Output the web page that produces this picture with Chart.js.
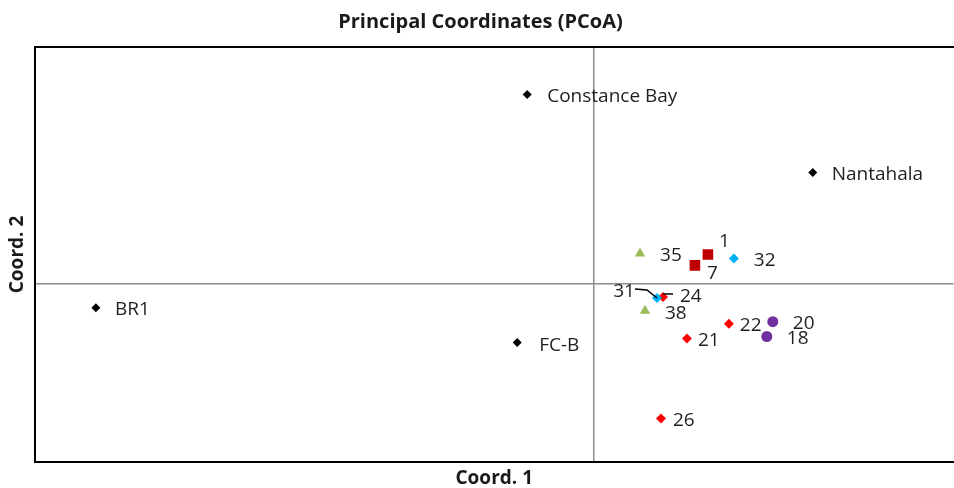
<!DOCTYPE html>
<html>
<head>
<meta charset="utf-8">
<script src="https://cdn.jsdelivr.net/npm/chart.js@4/dist/chart.umd.min.js"></script>
<style>
  html, body { margin: 0; padding: 0; background: #fff; overflow: hidden; }
  #wrap { width: 961px; height: 488px; }
</style>
</head>
<body>
<div id="wrap"><canvas id="pcoa"></canvas></div>
<script>
// site coordinates (Coord. 1, Coord. 2)
const refNames = ["Constance Bay", "Nantahala", "BR1", "FC-B"];
const refX = [-0.067, 0.219, -0.499, -0.077];
const refY = [0.192, 0.113, -0.024, -0.059];

const sqNames = ["1", "7"];
const sqX = [0.114, 0.101];
const sqY = [0.030, 0.019];

const blueNames = ["32", "31"];
const blueX = [0.140, 0.063];
const blueY = [0.026, -0.014];

const greenNames = ["35", "38"];
const greenX = [0.046, 0.051];
const greenY = [0.031, -0.027];

const redNames = ["24", "22", "21", "26"];
const redX = [0.069, 0.135, 0.093, 0.067];
const redY = [-0.013, -0.040, -0.055, -0.136];

const purpleNames = ["20", "18"];
const purpleX = [0.179, 0.173];
const purpleY = [-0.038, -0.053];

const xMin = -0.56, xMax = 0.36;
const yMin = -0.18, yMax = 0.24;

// label placement relative to its marker, in pixels
const labelOffset = {
    "Constance Bay": [20, 2], "Nantahala": [19, 2], "BR1": [19, 2], "FC-B": [22, 3],
    "1": [11, -13], "7": [12, 8], "32": [20, 2], "31": [-30, -6],
    "35": [20, 2], "38": [20, 3], "24": [17, 0], "22": [11, 2],
    "21": [11, 2], "26": [12, 2], "20": [20, 2], "18": [20, 2]
};

const pts = (xs, ys) => xs.map((x, i) => ({ x: x, y: ys[i] }));

function series(label, names, xs, ys, color, style, radius) {
    return {
        label: label,
        names: names,
        data: pts(xs, ys),
        pointStyle: style,
        pointRadius: radius,
        pointHoverRadius: radius,
        backgroundColor: color,
        borderColor: color,
        borderWidth: 0,
        showLine: false
    };
}

const pointLabels = {
    id: "pointLabels",
    afterDatasetsDraw(chart) {
        const c = chart.ctx;
        c.save();
        c.font = "19px 'Open Sans', sans-serif";
        c.fillStyle = "#1f1f1f";
        c.textBaseline = "middle";
        chart.data.datasets.forEach((ds, di) => {
            chart.getDatasetMeta(di).data.forEach((el, i) => {
                const name = ds.names[i];
                const off = labelOffset[name];
                if (name === "31") {
                    c.textAlign = "right";
                    c.fillText(name, el.x + off[0] + 8, el.y + off[1]);
                    c.strokeStyle = "#000";
                    c.lineWidth = 1.5;
                    c.beginPath();
                    c.moveTo(el.x - 22, el.y - 9);
                    c.lineTo(el.x - 10, el.y - 8);
                    c.lineTo(el.x, el.y);
                    c.stroke();
                } else {
                    c.textAlign = "left";
                    c.fillText(name, el.x + off[0], el.y + off[1]);
                    if (name === "24") {
                        c.strokeStyle = "#000";
                        c.lineWidth = 1.5;
                        c.beginPath();
                        c.moveTo(el.x, el.y - 3);
                        c.lineTo(el.x + 10, el.y - 3);
                        c.stroke();
                    }
                }
            });
        });
        c.restore();
    }
};

const topFrame = {
    id: "topFrame",
    afterDraw(chart) {
        const a = chart.chartArea;
        const c = chart.ctx;
        c.save();
        c.strokeStyle = "#000";
        c.lineWidth = 2;
        c.beginPath();
        c.moveTo(a.left - 1, a.top);
        c.lineTo(a.right + 10, a.top);
        c.stroke();
        c.restore();
    }
};

const zeroLine = (ctx) => Math.abs(ctx.tick.value) < 1e-9 ? "#8c8c8c" : "rgba(0,0,0,0)";
const axisFont = { family: "'Open Sans', sans-serif", size: 19, weight: "bold", lineHeight: 1.0 };

new Chart(document.getElementById("pcoa"), {
    type: "scatter",
    data: {
        datasets: [
            series("Reference", refNames, refX, refY, "#000000", "rectRot", 4.5),
            series("Squares", sqNames, sqX, sqY, "#c00000", "rect", 7.5),
            series("Blue", blueNames, blueX, blueY, "#00b0f0", "rectRot", 5),
            series("Green", greenNames, greenX, greenY, "#9bbb59", "triangle", 6),
            series("Red", redNames, redX, redY, "#ff0000", "rectRot", 5),
            series("Purple", purpleNames, purpleX, purpleY, "#7030a0", "circle", 5.5)
        ]
    },
    options: {
        responsive: true,
        maintainAspectRatio: false,
        animation: false,
        layout: { padding: { top: 0, right: 0, bottom: 0, left: 0 } },
        plugins: {
            legend: { display: false },
            tooltip: { enabled: false },
            title: {
                display: true,
                text: "Principal Coordinates (PCoA)",
                color: "#1a1a1a",
                font: { family: "'Open Sans', sans-serif", size: 20, weight: "bold", lineHeight: 1.2 },
                padding: { top: 10, bottom: 13 }
            }
        },
        scales: {
            x: {
                type: "linear",
                min: xMin,
                max: xMax,
                ticks: { display: false, stepSize: 0.04 },
                grid: { color: zeroLine, lineWidth: 1.5, drawTicks: false },
                border: { display: true, color: "#000", width: 2 },
                title: {
                    display: true,
                    text: "Coord. 1",
                    color: "#1a1a1a",
                    font: axisFont,
                    padding: { top: 7, bottom: 0 }
                }
            },
            y: {
                type: "linear",
                min: yMin,
                max: yMax,
                ticks: { display: false, stepSize: 0.02 },
                grid: { color: zeroLine, lineWidth: 1.5, drawTicks: false },
                border: { display: true, color: "#000", width: 2 },
                title: {
                    display: true,
                    text: "Coord. 2",
                    color: "#1a1a1a",
                    font: axisFont,
                    padding: { top: 8, bottom: 8 }
                }
            }
        }
    },
    plugins: [pointLabels, topFrame]
});
</script>
</body>
</html>
